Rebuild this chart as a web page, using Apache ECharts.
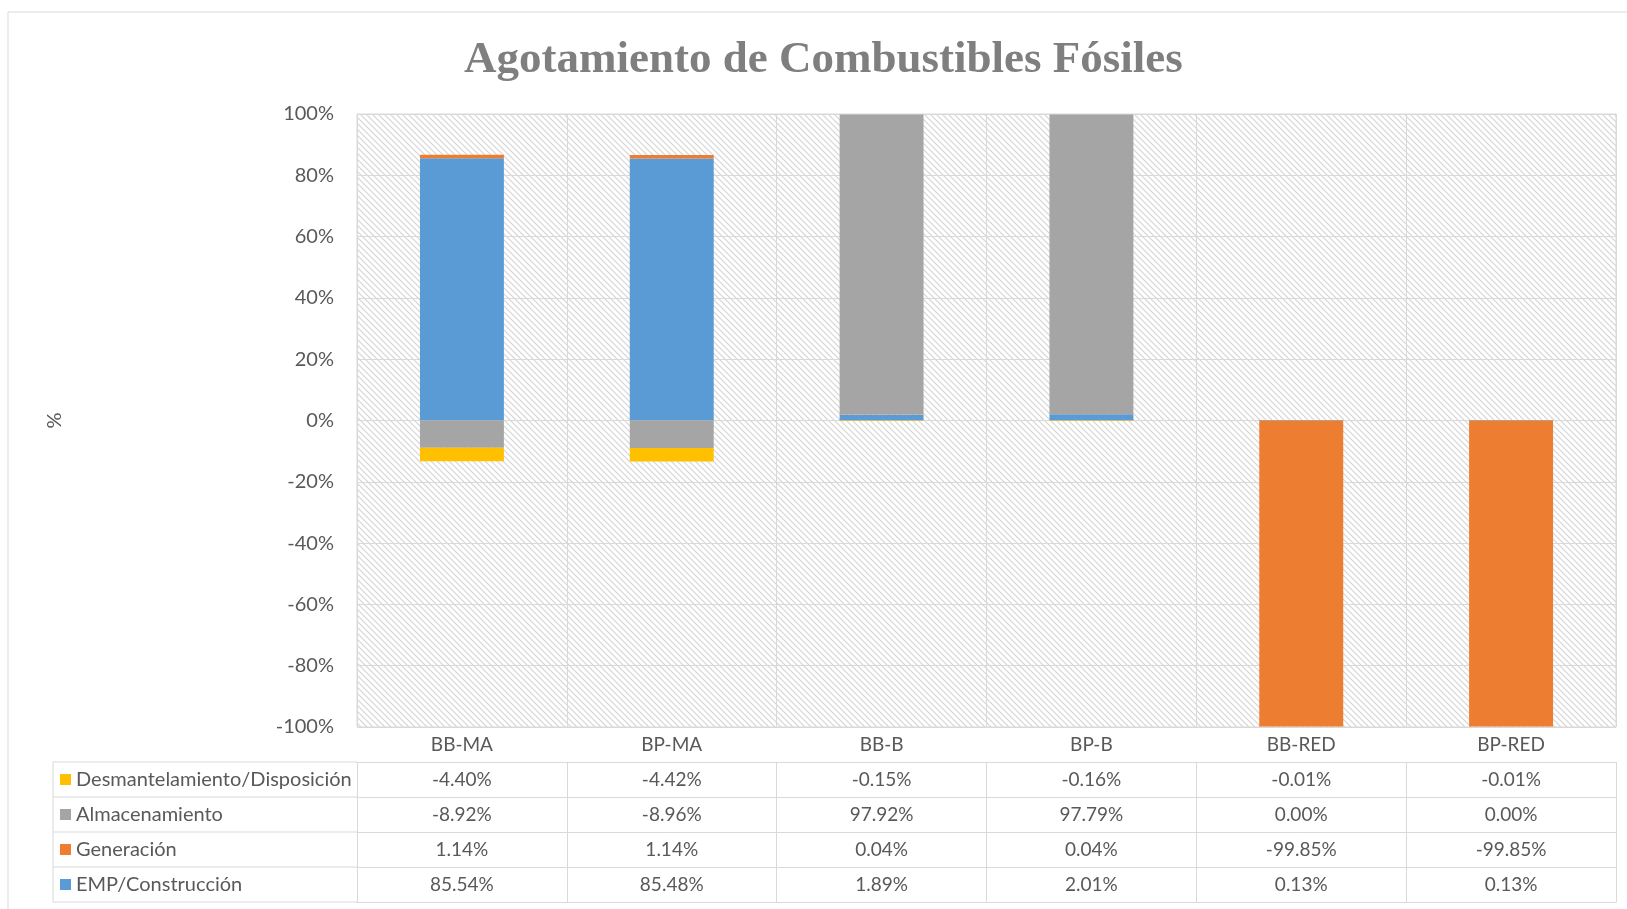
<!DOCTYPE html>
<html lang="es">
<head>
    <meta charset="utf-8"/>
    <title>Agotamiento de Combustibles Fósiles</title>
    <script src="https://cdn.jsdelivr.net/npm/echarts@6/dist/echarts.min.js"></script>
    <style>
        html, body { margin: 0; padding: 0; background: #fff; }
        #main { width: 1627px; height: 909px; }
    </style>
</head>
<body>
<div id="main"></div>
<script>
    // datos (en %)
    var categorias = ['BB-MA', 'BP-MA', 'BB-B', 'BP-B', 'BB-RED', 'BP-RED'];
    var desmantelamiento = [-4.40, -4.42, -0.15, -0.16, -0.01, -0.01];
    var almacenamiento = [-8.92, -8.96, 97.92, 97.79, 0.00, 0.00];
    var generacion = [1.14, 1.14, 0.04, 0.04, -99.85, -99.85];
    var construccion = [85.54, 85.48, 1.89, 2.01, 0.13, 0.13];
    var ejeY = [-100, 100, 20];

    var nombres = ['Desmantelamiento/Disposición', 'Almacenamiento', 'Generación', 'EMP/Construcción'];
    var colores = ['#FFC000', '#A5A5A5', '#ED7D31', '#5B9BD5'];
    var filas = [desmantelamiento, almacenamiento, generacion, construccion];

    // geometria de la tabla
    var gLeft = 357, gRight = 1616, gTop = 114, gBottom = 727, rowH = 35, tabLeft = 53;
    var lineCol = '#d9d9d9', textCol = '#595959';
    var fuente = 'Lato';

    // trama diagonal del area de trazado
    var tile = document.createElement('canvas');
    tile.width = 6; tile.height = 6;
    var ctx = tile.getContext('2d');
    ctx.fillStyle = '#ffffff';
    ctx.fillRect(0, 0, 6, 6);
    ctx.strokeStyle = '#d4d4d4';
    ctx.lineWidth = 1.2;
    ctx.beginPath();
    ctx.moveTo(-1, -1); ctx.lineTo(7, 7);
    ctx.moveTo(5, -1); ctx.lineTo(7, 1);
    ctx.moveTo(-1, 5); ctx.lineTo(1, 7);
    ctx.stroke();

    function fmt(v) { return v.toFixed(2) + '%'; }

    // eje principal + un eje por fila de la tabla
    var xAxes = [{
        type: 'category',
        data: categorias,
        position: 'bottom',
        axisLine: { show: true, lineStyle: { color: lineCol } },
        axisTick: { show: true, length: rowH, interval: 0, lineStyle: { color: lineCol } },
        axisLabel: { interval: 0, margin: 8, color: textCol, fontSize: 19, fontFamily: fuente },
        splitLine: { show: true, interval: 0, lineStyle: { color: lineCol } }
    }];
    for (var r = 0; r < filas.length; r++) {
        xAxes.push({
            type: 'category',
            data: filas[r].map(fmt),
            position: 'bottom',
            offset: rowH * (r + 1),
            axisLine: { show: true, lineStyle: { color: lineCol } },
            axisTick: { show: true, length: rowH, interval: 0, lineStyle: { color: lineCol } },
            axisLabel: { interval: 0, margin: 8, color: textCol, fontSize: 19, fontFamily: fuente },
            splitLine: { show: false }
        });
    }
    xAxes.push({
        type: 'category',
        data: categorias,
        position: 'bottom',
        offset: rowH * 5,
        axisLine: { show: true, lineStyle: { color: lineCol } },
        axisTick: { show: false },
        axisLabel: { show: false },
        splitLine: { show: false }
    });

    // lineas de la primera columna de la tabla
    var graficos = [{
        type: 'rect',
        shape: { x: 8, y: 12, width: 1660, height: 940 },
        style: { fill: 'none', stroke: lineCol, lineWidth: 1 },
        silent: true
    }, {
        type: 'line',
        shape: { x1: tabLeft, y1: gBottom + rowH, x2: tabLeft, y2: gBottom + rowH * 5 },
        style: { stroke: lineCol, lineWidth: 1 }
    }];
    for (var k = 1; k <= 5; k++) {
        graficos.push({
            type: 'line',
            shape: { x1: tabLeft, y1: gBottom + rowH * k, x2: gLeft, y2: gBottom + rowH * k },
            style: { stroke: lineCol, lineWidth: 1 }
        });
    }

    var myChart = echarts.init(document.getElementById('main'));
    var option = {
        backgroundColor: '#fff',
        animation: false,
        title: {
            text: 'Agotamiento de Combustibles Fósiles',
            left: 464,
            top: 38,
            padding: 0,
            textStyle: { color: '#7f7f7f', fontSize: 45, fontWeight: 'bold', fontFamily: 'Liberation Serif' }
        },
        legend: {
            orient: 'vertical',
            left: 60,
            top: gBottom + rowH + 7.5,
            padding: 0,
            itemGap: 15,
            itemWidth: 11,
            itemHeight: 11,
            icon: 'rect',
            data: nombres,
            textStyle: { color: textCol, fontSize: 20, lineHeight: 20, fontFamily: fuente }
        },
        grid: {
            left: gLeft,
            right: 1627 - gRight,
            top: gTop,
            bottom: 909 - gBottom,
            show: true,
            borderColor: lineCol,
            borderWidth: 1,
            backgroundColor: { image: tile, repeat: 'repeat' }
        },
        xAxis: xAxes,
        yAxis: {
            type: 'value',
            min: ejeY[0],
            max: ejeY[1],
            interval: ejeY[2],
            name: '%',
            nameLocation: 'middle',
            nameGap: 292,
            nameTextStyle: { color: textCol, fontSize: 20, fontFamily: fuente },
            axisLine: { show: false },
            axisTick: { show: false },
            axisLabel: { formatter: '{value}%', margin: 23, color: textCol, fontSize: 20, fontFamily: fuente },
            splitLine: { lineStyle: { color: lineCol } }
        },
        graphic: graficos,
        series: [
            { name: nombres[3], type: 'bar', stack: 'total', barWidth: '40%', data: construccion, itemStyle: { color: colores[3] } },
            { name: nombres[2], type: 'bar', stack: 'total', barWidth: '40%', data: generacion, itemStyle: { color: colores[2] } },
            { name: nombres[1], type: 'bar', stack: 'total', barWidth: '40%', data: almacenamiento, itemStyle: { color: colores[1] } },
            { name: nombres[0], type: 'bar', stack: 'total', barWidth: '40%', data: desmantelamiento, itemStyle: { color: colores[0] } }
        ]
    };
    myChart.setOption(option);

    window.onresize = function () {
        myChart.resize();
    };
</script>
</body>
</html>
